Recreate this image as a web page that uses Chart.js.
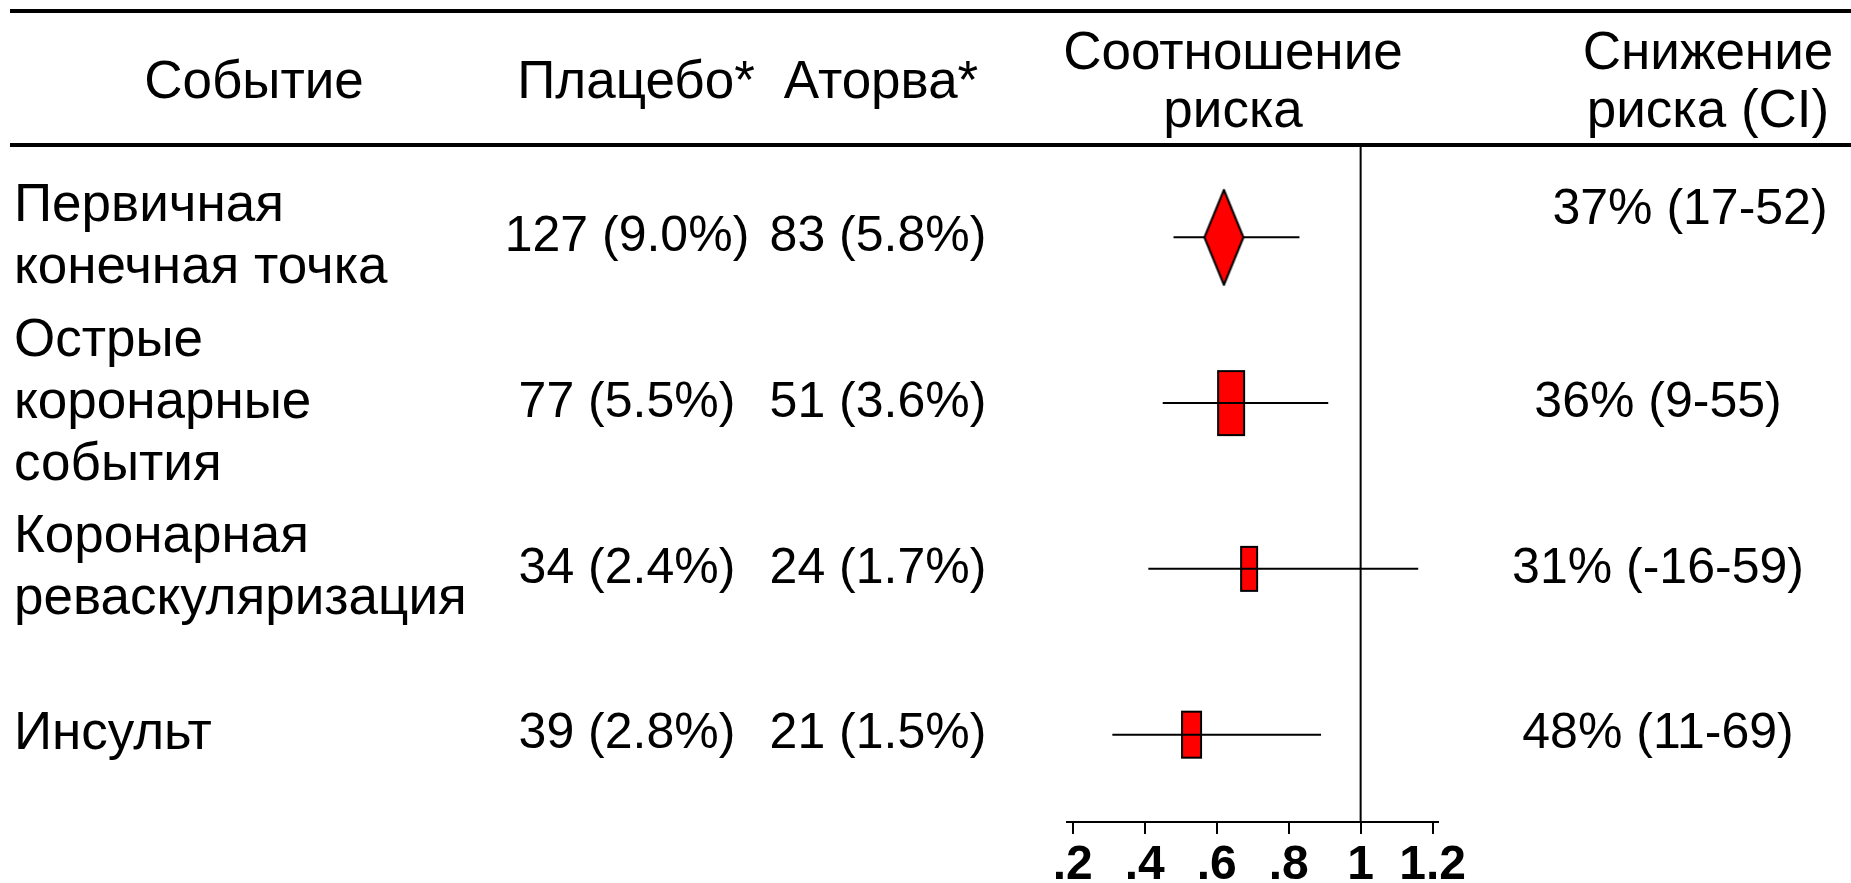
<!DOCTYPE html>
<html>
<head>
<meta charset="utf-8">
<script src="https://cdn.jsdelivr.net/npm/chart.js@4/dist/chart.umd.min.js"></script>
<style>
  html, body { margin: 0; padding: 0; background: #ffffff; }
  #wrap { width: 1851px; height: 883px; position: relative; }
</style>
</head>
<body>
<div id="wrap"><canvas id="c" width="1851" height="883"></canvas></div>
<script>
// ---------------- DATA ----------------
const events = [
  ['Первичная', 'конечная точка'],
  ['Острые', 'коронарные', 'события'],
  ['Коронарная', 'реваскуляризация'],
  ['Инсульт']
];
const placeboN   = [127, 77, 34, 39];
const placeboPct = ['9.0', '5.5', '2.4', '2.8'];
const atorvaN    = [83, 51, 24, 21];
const atorvaPct  = ['5.8', '3.6', '1.7', '1.5'];
const hazardRatio = [0.62, 0.64, 0.69, 0.53];
const ciLow       = [0.48, 0.45, 0.41, 0.31];
const ciHigh      = [0.83, 0.91, 1.16, 0.89];
const riskReduction = ['37% (17-52)', '36% (9-55)', '31% (-16-59)', '48% (11-69)'];
const tickValues = [0.2, 0.4, 0.6, 0.8, 1.0, 1.2];
const tickLabels = ['.2', '.4', '.6', '.8', '1', '1.2'];
const headers = [
  ['Событие'],
  ['Плацебо*'],
  ['Аторва*'],
  ['Соотношение', 'риска'],
  ['Снижение', 'риска (CI)']
];
const referenceValue = 1;

// ---------------- LAYOUT / STYLE ----------------
const FONT = "'Liberation Sans', Arial, Helvetica, sans-serif";
const TEXT_FONT = '53px ' + FONT;   // Cyrillic labels / headers
const NUM_FONT = '50px ' + FONT;    // numeric cells
const Y_MIN = -0.557, Y_MAX = 3.527;
const X_MIN = 0.184, X_MAX = 1.215;
const headerX = [254, 636, 881, 1233, 1708];
const colX = { event: 14, placebo: 627, atorva: 878, reduction: 1658 };
const reductionNudge = [{ dx: 32, dy: -27 }, { dx: 0, dy: 0 }, { dx: 0, dy: 0 }, { dx: 0, dy: 0 }];
const ROW_LINE_H = 62, HEAD_LINE_H = 58, HEAD_Y = 83;
// marker shapes: first row diamond, others boxes (w,h in px)
const markerShape = [
  { type: 'diamond', w: 39, h: 95 },
  { type: 'box', w: 28, h: 66 },
  { type: 'box', w: 18, h: 46 },
  { type: 'box', w: 21, h: 48 }
];

function makeMarker(s) {
  const pad = 4;
  const c = document.createElement('canvas');
  c.width = s.w + pad * 2; c.height = s.h + pad * 2;
  const g = c.getContext('2d');
  g.fillStyle = '#ff0000'; g.strokeStyle = '#000000'; g.lineWidth = 2;
  g.beginPath();
  if (s.type === 'diamond') {
    g.lineJoin = 'round';
    g.moveTo(pad + s.w / 2, pad);
    g.lineTo(pad + s.w, pad + s.h / 2);
    g.lineTo(pad + s.w / 2, pad + s.h);
    g.lineTo(pad, pad + s.h / 2);
    g.closePath();
  } else {
    g.rect(pad + 1, pad + 1, s.w - 2, s.h - 2);
  }
  g.fill(); g.stroke();
  return c;
}

const rows = events.map((_, i) => i);
const datasets = [];

// diamond (top-most)
datasets.push({
  type: 'scatter', order: 0,
  data: [{ x: hazardRatio[0], y: 0 }],
  pointStyle: [makeMarker(markerShape[0])],
  pointRadius: 10, showLine: false
});
// CI lines
rows.forEach(i => {
  datasets.push({
    type: 'line', order: 1,
    data: [{ x: ciLow[i], y: i }, { x: ciHigh[i], y: i }],
    borderColor: '#000000', borderWidth: 2, pointRadius: 0, fill: false, tension: 0
  });
});
// boxes
datasets.push({
  type: 'scatter', order: 2,
  data: rows.slice(1).map(i => ({ x: hazardRatio[i], y: i })),
  pointStyle: rows.slice(1).map(i => makeMarker(markerShape[i])),
  pointRadius: 10, showLine: false
});
// reference line
datasets.push({
  type: 'line', order: 3,
  data: [{ x: referenceValue, y: Y_MIN }, { x: referenceValue, y: Y_MAX }],
  borderColor: '#000000', borderWidth: 2, pointRadius: 0, fill: false
});

const tablePlugin = {
  id: 'tableText',
  afterDraw(chart) {
    const ctx = chart.ctx;
    const ys = chart.scales.y;
    const area = chart.chartArea;
    ctx.save();
    // rules
    ctx.fillStyle = '#000000';
    ctx.fillRect(10, 9, 1841, 4);
    ctx.fillRect(10, area.top - 2, 1841, 4);
    // header
    ctx.font = TEXT_FONT;
    ctx.textBaseline = 'middle';
    ctx.textAlign = 'center';
    headers.forEach((lines, k) => {
      const n = lines.length;
      lines.forEach((t, j) => {
        ctx.fillText(t, headerX[k], HEAD_Y + (j - (n - 1) / 2) * HEAD_LINE_H);
      });
    });
    // rows
    rows.forEach(i => {
      const yc = ys.getPixelForValue(i);
      const lines = events[i];
      const n = lines.length;
      ctx.font = TEXT_FONT;
      ctx.textAlign = 'left';
      lines.forEach((t, j) => ctx.fillText(t, colX.event, yc + (j - (n - 1) / 2) * ROW_LINE_H));
      ctx.font = NUM_FONT;
      ctx.textAlign = 'center';
      ctx.fillText(placeboN[i] + ' (' + placeboPct[i] + '%)', colX.placebo, yc);
      ctx.fillText(atorvaN[i] + ' (' + atorvaPct[i] + '%)', colX.atorva, yc);
      ctx.fillText(riskReduction[i], colX.reduction + reductionNudge[i].dx, yc + reductionNudge[i].dy);
    });
    ctx.restore();
  }
};

Chart.defaults.font.family = FONT;
Chart.defaults.color = '#000000';

new Chart(document.getElementById('c'), {
  type: 'scatter',
  data: { datasets },
  options: {
    responsive: false,
    animation: false,
    events: [],
    layout: { padding: { left: 1067, right: 413, top: 145, bottom: 0 } },
    plugins: { legend: { display: false }, tooltip: { enabled: false }, title: { display: false } },
    datasets: { line: { clip: false }, scatter: { clip: false } },
    scales: {
      x: {
        type: 'linear', position: 'bottom',
        min: X_MIN, max: X_MAX,
        afterBuildTicks: (s) => { s.ticks = tickValues.map(v => ({ value: v })); },
        afterFit: (s) => { s.height = 61; },
        ticks: {
          autoSkip: false, maxRotation: 0, padding: 3,
          font: { size: 48, weight: 'bold', family: FONT }, color: '#000000',
          callback: (v) => { const k = tickValues.findIndex(t => Math.abs(t - v) < 1e-6); return k >= 0 ? tickLabels[k] : ''; }
        },
        grid: { display: true, drawOnChartArea: false, drawTicks: true, tickLength: 12, color: '#000000', lineWidth: 2 },
        border: { display: true, color: '#000000', width: 2 }
      },
      y: {
        type: 'linear', display: false, reverse: true,
        min: Y_MIN, max: Y_MAX
      }
    }
  },
  plugins: [tablePlugin]
});
</script>
</body>
</html>
